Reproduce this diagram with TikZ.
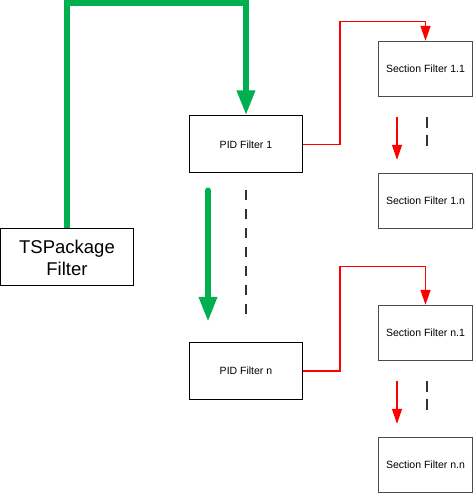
\documentclass[tikz,border=0pt]{standalone}
\usepackage{fontspec}
\setmainfont{Liberation Sans}
\usetikzlibrary{arrows.meta}
\definecolor{pipegreen}{RGB}{0,176,80}
\definecolor{dashgray}{RGB}{50,50,50}
\tikzset{
  pidbox/.style={draw, line width=1pt, minimum width=113pt, minimum height=57pt,
    inner sep=0pt, font=\fontsize{10.5}{12}\selectfont},
  secbox/.style={draw=black!70, line width=1.4pt, minimum width=94pt, minimum height=55pt,
    inner sep=0pt, font=\fontsize{10.5}{12}\selectfont},
  greenflow/.style={draw=pipegreen, line width=6pt, line cap=round,
    -{Triangle[width=17pt,length=25pt]}},
  redflow/.style={draw=red, line width=1.3pt, -{Triangle[width=10pt,length=15pt]}},
  skipline/.style={draw=dashgray, line width=2pt}
}
\begin{document}
\begin{tikzpicture}[x=1pt, y=1pt]
    \useasboundingbox (0, 0) rectangle (473, 494);
    % filters
    \node[pidbox, minimum width=133pt, font=\fontsize{18.5}{22}\selectfont, align=center]
      (ts) at (67, 236.5) {TSPackage\\Filter};
    \node[pidbox] (pid1) at (246, 349.5) {PID Filter 1};
    \node[pidbox] (pidn) at (246, 123) {PID Filter n};
    \node[secbox] (s11) at (425.5, 425) {Section Filter 1.1};
    \node[secbox] (s1n) at (425.5, 293) {Section Filter 1.n};
    \node[secbox] (sn1) at (425.5, 161) {Section Filter n.1};
    \node[secbox] (snn) at (425.5, 29) {Section Filter n.n};
    % packages to the PID filters
    \coordinate (gtop) at (246, 491);
    \draw[greenflow, line cap=butt] (ts.north) |- (gtop) -- (pid1.north);
    \draw[greenflow] ([xshift=-38pt, yshift=-17pt]pid1.south) -- ([xshift=-38pt, yshift=20pt]pidn.north);
    \draw[skipline, dash pattern=on 10pt off 9pt] ([yshift=-17pt]pid1.south) -- ([yshift=24pt]pidn.north);
    % PID filters to the section filters
    \foreach \p/\s/\h in {pid1/s11/19, pidn/sn1/38}
      \draw[redflow] (\p.east) -- ++(37, 0) |- ([yshift=\h pt]\s.north) -- (\s.north);
    \foreach \a/\b in {s11/s1n, sn1/snn} {
      \draw[redflow] ([xshift=-28.5pt, yshift=-20pt]\a.south) -- ([xshift=-28.5pt, yshift=13pt]\b.north);
      \draw[skipline, dash pattern=on 11pt off 7pt] ([xshift=1.5pt, yshift=-20pt]\a.south) -- ([xshift=1.5pt, yshift=-50pt]\a.south);
    }
  \end{tikzpicture}
\end{document}
